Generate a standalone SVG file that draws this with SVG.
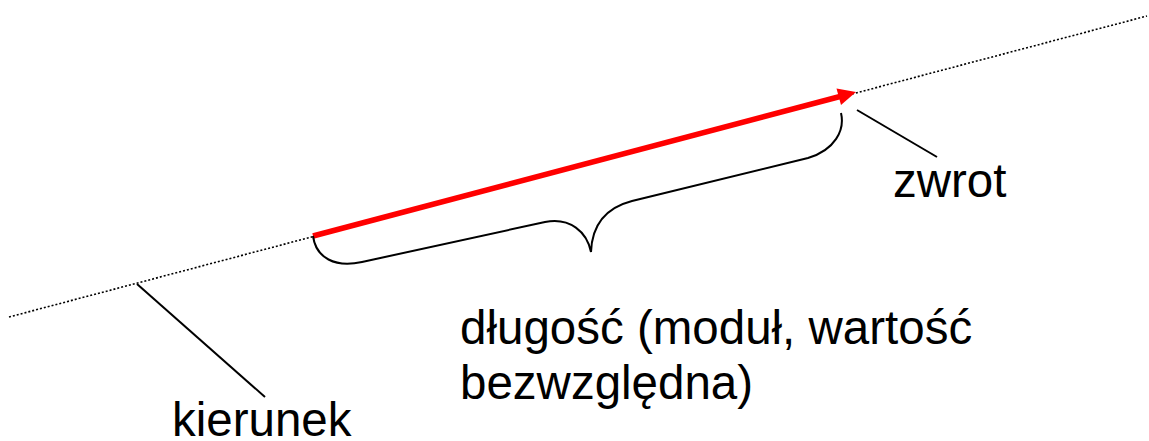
<svg xmlns="http://www.w3.org/2000/svg" width="1149" height="441" viewBox="0 0 1149 441">
<style>
.lbl{font-family:"Liberation Sans",Arial,sans-serif;font-size:47.5px;fill:#000}
.dot{stroke:#000;stroke-width:1.6;stroke-dasharray:2 2;fill:none}
.ln{stroke:#000;stroke-width:2;fill:none}
</style>
<rect width="1149" height="441" fill="#fff"/>
<g id="connectors">
<line class="dot" x1="9" y1="317" x2="1147" y2="16"/>
<line x1="313" y1="236" x2="840" y2="96.5" stroke="#ff0000" stroke-width="5.5"/>
<polygon points="856,92 836.5,88.5 841,105" fill="#ff0000"/>
<path class="ln" d="M313,236 C316,258 335,268 362,262 L545,222 C570,217 587,232 591,252 C592,225 605,208 632,201 L808,158 C835,150 845,130 841,113"/>
<line class="ln" x1="857" y1="110" x2="937" y2="157"/>
<line class="ln" x1="137" y1="284" x2="265" y2="397"/>
</g>
<g id="zwrot"><text class="lbl" x="893" y="197">zwrot</text></g>
<g id="dlugosc"><text class="lbl" x="460" y="344">długość (moduł, wartość</text><text class="lbl" x="460" y="399">bezwzględna)</text></g>
<g id="kierunek"><text class="lbl" x="172" y="436">kierunek</text></g>
</svg>
